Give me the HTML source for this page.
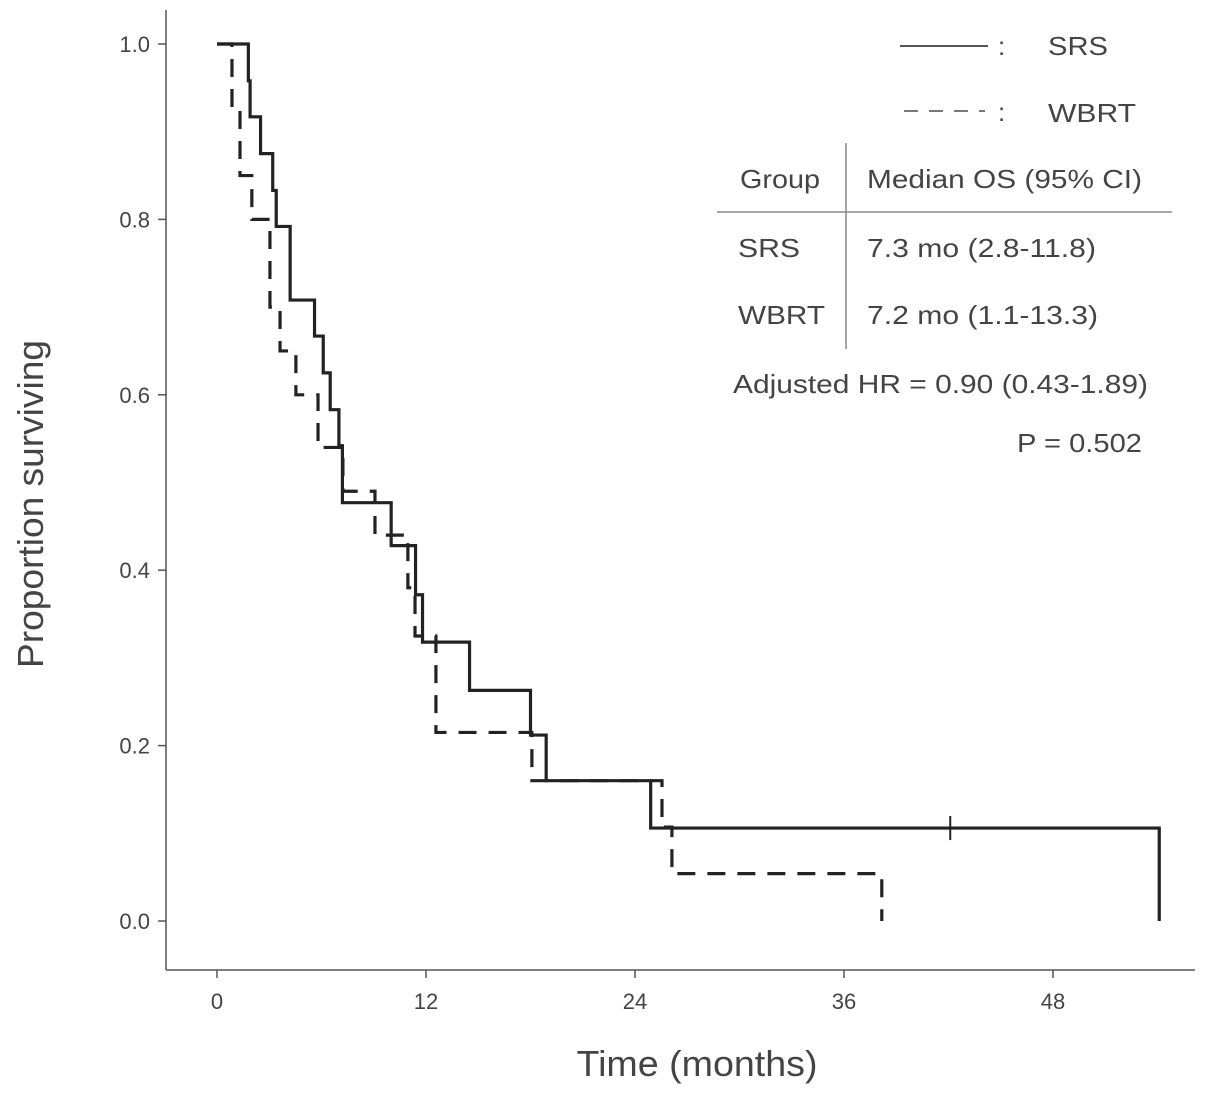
<!DOCTYPE html>
<html><head><meta charset="utf-8">
<style>
html,body{margin:0;padding:0;background:#fff;}
svg{display:block;font-family:"Liberation Sans",Arial,sans-serif;}
</style></head>
<body>
<svg id="chart" width="1205" height="1096" viewBox="0 0 1205 1096" xmlns="http://www.w3.org/2000/svg">
  <g id="axes"></g>
  <g id="series"></g>
  <g fill="#444" font-size="26">
    <line x1="900" y1="46" x2="988" y2="46" stroke="#555" stroke-width="2"/>
    <text x="998" y="55">:</text>
    <text x="1048" y="55" textLength="60" lengthAdjust="spacingAndGlyphs">SRS</text>
    <line x1="904" y1="111" x2="985" y2="111" stroke="#777" stroke-width="2" stroke-dasharray="14,11"/>
    <text x="998" y="121">:</text>
    <text x="1048" y="122" textLength="88" lengthAdjust="spacingAndGlyphs">WBRT</text>
  </g>
  <g fill="#444" font-size="26">
    <line x1="846" y1="143" x2="846" y2="349" stroke="#888" stroke-width="1.5"/>
    <line x1="717" y1="212" x2="1172" y2="212" stroke="#888" stroke-width="1.5"/>
    <text x="740" y="188" textLength="80" lengthAdjust="spacingAndGlyphs">Group</text>
    <text x="867" y="188" textLength="275" lengthAdjust="spacingAndGlyphs">Median OS (95% CI)</text>
    <text x="738" y="257" textLength="62" lengthAdjust="spacingAndGlyphs">SRS</text>
    <text x="867" y="257" textLength="229" lengthAdjust="spacingAndGlyphs">7.3 mo (2.8-11.8)</text>
    <text x="738" y="324" textLength="87" lengthAdjust="spacingAndGlyphs">WBRT</text>
    <text x="867" y="324" textLength="231" lengthAdjust="spacingAndGlyphs">7.2 mo (1.1-13.3)</text>
    <text x="733" y="393" textLength="415" lengthAdjust="spacingAndGlyphs">Adjusted HR = 0.90 (0.43-1.89)</text>
    <text x="1017" y="452" textLength="125" lengthAdjust="spacingAndGlyphs">P = 0.502</text>
  </g>
</svg>
<script>
const xTicks = [0, 12, 24, 36, 48];
const yTicks = [0.0, 0.2, 0.4, 0.6, 0.8, 1.0];
const yTickLabels = ["0.0", "0.2", "0.4", "0.6", "0.8", "1.0"];
const srsTimes = [0, 1.8, 1.9, 2.5, 3.2, 3.4, 4.2, 5.6, 6.1, 6.5, 7.0, 7.2, 10.0, 11.4, 11.8, 14.5, 18.0, 18.9, 24.9, 54.1];
const srsSurv  = [1, 0.958, 0.917, 0.875, 0.833, 0.792, 0.708, 0.667, 0.625, 0.583, 0.542, 0.477, 0.428, 0.372, 0.318, 0.263, 0.212, 0.16, 0.106, 0];
const srsCensor = [42.1];
const wbrtTimes = [0, 0.86, 1.32, 2.0, 3.04, 3.62, 4.53, 5.8, 7.23, 9.07, 10.96, 11.37, 12.57, 18.08, 25.55, 26.12, 38.17];
const wbrtSurv  = [1, 0.93, 0.85, 0.80, 0.70, 0.65, 0.60, 0.54, 0.49, 0.44, 0.38, 0.325, 0.215, 0.16, 0.107, 0.054, 0];

const NS = "http://www.w3.org/2000/svg";
const X = t => 217 + t * (1053 - 217) / 48;
const Y = v => 921 - v * (921 - 44);
function mk(tag, attrs, parent){ const e=document.createElementNS(NS,tag); for(const k in attrs) e.setAttribute(k,attrs[k]); parent.appendChild(e); return e; }

const axes = document.getElementById('axes');
let el = mk('line',{x1:166,y1:10,x2:166,y2:970,stroke:'#555','stroke-width':1.5},axes);


el = mk('line',{x1:166,y1:970,x2:1195,y2:970,stroke:'#555','stroke-width':1.5},axes);


yTicks.forEach((v,i)=>{
  const t = mk('line',{x1:158,y1:Y(v),x2:166,y2:Y(v),stroke:'#555','stroke-width':1.5},axes);
  
  
  const l = mk('text',{x:150,y:Y(v)+8,'text-anchor':'end','font-size':22,fill:'#444'},axes);
  l.textContent = yTickLabels[i];
  
  
});
xTicks.forEach(v=>{
  const t = mk('line',{x1:X(v),y1:970,x2:X(v),y2:978,stroke:'#555','stroke-width':1.5},axes);
  
  
  const l = mk('text',{x:X(v),y:1009,'text-anchor':'middle','font-size':22,fill:'#444'},axes);
  l.textContent = String(v);
  
  
});
el = mk('text',{x:697,y:1076,'text-anchor':'middle','font-size':36,fill:'#444',textLength:241,lengthAdjust:'spacingAndGlyphs'},axes);
el.textContent = 'Time (months)';


el = mk('text',{x:0,y:0,'text-anchor':'middle','font-size':36,fill:'#444',textLength:328,lengthAdjust:'spacingAndGlyphs',transform:'translate(43,504) rotate(-90)'},axes);
el.textContent = 'Proportion surviving';



function stepPath(ts, ss){
  let d = 'M'+X(ts[0])+','+Y(ss[0]);
  for(let i=1;i<ts.length;i++){ d += ' H'+X(ts[i])+' V'+Y(ss[i]); }
  return d;
}
const series = document.getElementById('series');
el = mk('path',{d:stepPath(wbrtTimes,wbrtSurv),fill:'none',stroke:'#222','stroke-width':3.2,'stroke-dasharray':'18,12'},series);


el = mk('path',{d:stepPath(srsTimes,srsSurv),fill:'none',stroke:'#222','stroke-width':3.2},series);


srsCensor.forEach(t=>{
  let v = 0;
  for(let i=0;i<srsTimes.length;i++){ if(srsTimes[i]<=t) v=srsSurv[i]; }
  const c = mk('line',{x1:X(t),y1:Y(v)-12,x2:X(t),y2:Y(v)+12,stroke:'#222','stroke-width':2},series);
  
  
});
</script>
</body></html>
